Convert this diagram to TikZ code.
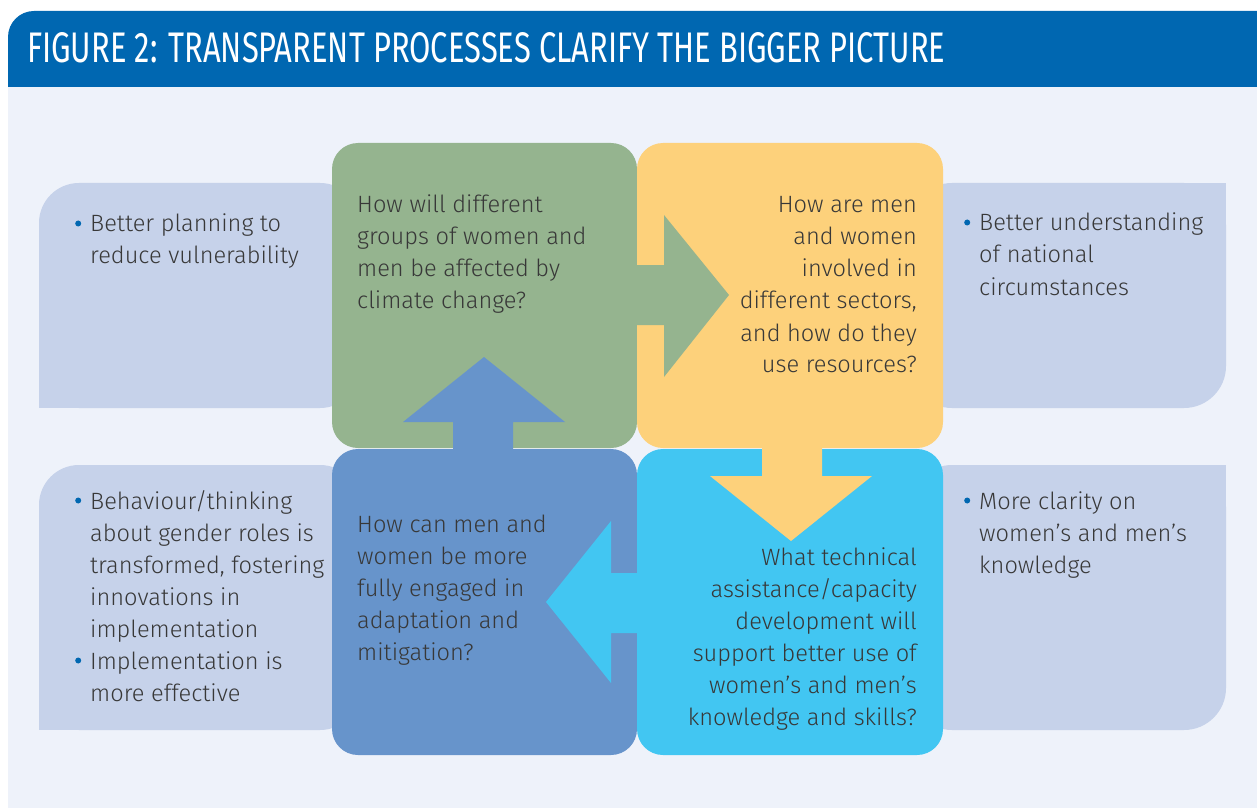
\documentclass[tikz,border=0pt]{standalone}
\usepackage{graphicx}
\usepackage{fontspec}
\setmainfont{Fira Sans Light}
\newfontfamily\titlefont{Fira Sans}
\definecolor{titleblue}{HTML}{0067B1}
\definecolor{panel}{HTML}{EEF2FA}
\definecolor{side}{HTML}{C6D2EA}
\definecolor{qgreen}{HTML}{95B48F}
\definecolor{qyellow}{HTML}{FDD17B}
\definecolor{qblue}{HTML}{6794CB}
\definecolor{qcyan}{HTML}{42C6F2}
\definecolor{txtgray}{HTML}{383838}
\newcommand{\bul}{\leavevmode\llap{\tikz[baseline=-8.5pt]\fill[titleblue] (0,0) circle[radius=3pt];\hspace{9pt}}}
\tikzset{
  txt/.style={inner sep=0pt, text=txtgray, font=\fontsize{23.6}{32}\selectfont},
  qbox/.style={rounded corners=26pt},
}
\begin{document}
\begin{tikzpicture}[x=1pt,y=-1pt]
\useasboundingbox (0,0) rectangle (1257,810);
\fill[white] (0,0) rectangle (1257,810);
% panel and title bar
\fill[panel] (8,60) rectangle (1257,808);
\fill[titleblue, rounded corners=26pt] (8,11) rectangle (1300,87);
\fill[titleblue] (8,50) rectangle (60,87);
\node[anchor=base west, inner sep=0pt, text=white] (title) at (27,63)
  {\resizebox{918pt}{30pt}{\titlefont FIGURE 2: TRANSPARENT PROCESSES CLARIFY THE BIGGER PICTURE}};
% side boxes
\fill[side, rounded corners=40pt] (39,183) rectangle (360,408);
\fill[side] (39,350) rectangle (100,408);
\fill[side, rounded corners=42pt] (910,183) rectangle (1226,408);
\fill[side] (1170,183) rectangle (1226,240);
\fill[side, rounded corners=40pt] (39,465) rectangle (360,730);
\fill[side] (39,680) rectangle (100,730);
\fill[side, rounded corners=42pt] (910,465) rectangle (1226,730);
\fill[side] (1170,465) rectangle (1226,520);
% question boxes
\fill[qgreen, qbox] (332,143) rectangle (637,448);
\fill[qyellow, qbox] (637,143) rectangle (943,448);
\fill[qblue, qbox] (332,449) rectangle (637,755);
\fill[qcyan, qbox] (637,449) rectangle (943,755);
% arrows
\fill[qgreen] (620,265) -- (664,265) -- (664,215) -- (729,295) -- (664,377) -- (664,325) -- (620,325) -- cycle;
\fill[qblue] (453,472) -- (453,422) -- (403,422) -- (484,357) -- (565,422) -- (513,422) -- (513,472) -- cycle;
\fill[qyellow] (762,430) -- (762,476) -- (710,476) -- (791,541) -- (872,476) -- (822,476) -- (822,430) -- cycle;
\fill[qcyan] (660,573) -- (611,573) -- (611,521) -- (546,602) -- (611,683) -- (611,633) -- (660,633) -- cycle;
% side texts
\node[txt, anchor=base west] (ul) at (90,232)
  {\parbox[t]{240pt}{\raggedright\bul Better planning to\\reduce vulnerability}};
\node[txt, anchor=base west] (ur) at (979,231)
  {\parbox[t]{240pt}{\raggedright\bul Better understanding\\of national\\circumstances}};
\node[txt, anchor=base west] (ll) at (90,509)
  {\parbox[t]{240pt}{\raggedright\bul Behaviour/thinking\\about gender roles is\\transformed, fostering\\innovations in\\implementation\\\bul Implementation is\\more effective}};
\node[txt, anchor=base west] (lr) at (979,509)
  {\parbox[t]{240pt}{\raggedright\bul More clarity on\\women’s and men’s\\knowledge}};
% question texts
\node[txt, anchor=base west] (qg) at (357,213)
  {\parbox[t]{270pt}{\raggedright How will different\\groups of women and\\men be affected by\\climate change?}};
\node[txt, anchor=base east] (qy) at (917,213)
  {\parbox[t]{270pt}{\raggedleft How are men\\and women\\involved in\\different sectors,\\and how do they\\use resources?}};
\node[txt, anchor=base west] (qb) at (357,532)
  {\parbox[t]{270pt}{\raggedright How can men and\\women be more\\fully engaged in\\adaptation and\\mitigation?}};
\node[txt, anchor=base east] (qc) at (917,565)
  {\parbox[t]{270pt}{\raggedleft What technical\\assistance/capacity\\development will\\support better use of\\women’s and men’s\\knowledge and skills?}};
\end{tikzpicture}
\end{document}
